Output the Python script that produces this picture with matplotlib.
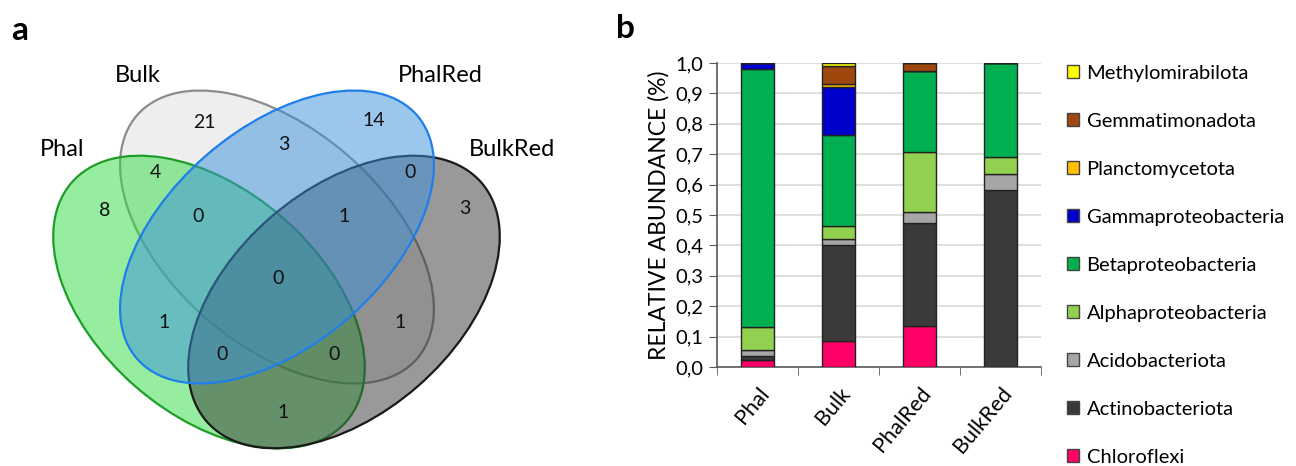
import numpy as np
import matplotlib
matplotlib.use("Agg")
import matplotlib.pyplot as plt
from matplotlib.patches import Ellipse, Patch

plt.rcParams['font.family'] = ['Lato', 'DejaVu Sans']

# DATA
samples = ["Phal", "Bulk", "PhalRed", "BulkRed"]
phyla = ["Chloroflexi", "Actinobacteriota", "Acidobacteriota", "Alphaproteobacteria",
         "Betaproteobacteria", "Gammaproteobacteria", "Planctomycetota",
         "Gemmatimonadota", "Methylomirabilota"]
chloroflexi = [0.022, 0.084, 0.134, 0.0]
actinobacteriota = [0.015, 0.317, 0.339, 0.583]
acidobacteriota = [0.020, 0.019, 0.037, 0.052]
alphaproteobacteria = [0.075, 0.044, 0.197, 0.056]
betaproteobacteria = [0.849, 0.299, 0.268, 0.309]
gammaproteobacteria = [0.019, 0.158, 0.0, 0.0]
planctomycetota = [0.0, 0.010, 0.0, 0.0]
gemmatimonadota = [0.0, 0.060, 0.025, 0.0]
methylomirabilota = [0.0, 0.009, 0.0, 0.0]
colors = ["#FF0066", "#3A3A3A", "#A6A6A6", "#92D050", "#00B050",
          "#0000CC", "#FFC000", "#9E480E", "#FFFF00"]

# venn region counts (label text, position in pixels)
venn_counts = ["21", "14", "3", "4", "0", "8", "3", "0", "1", "0", "1", "1", "0", "0", "1"]
venn_pos = [(204, 122), (374, 120), (284, 145), (155, 172), (410, 172), (105, 210),
            (465, 208), (198, 217), (344, 217), (278, 278), (164, 322), (400, 322),
            (222, 355), (334, 355), (283, 413)]

fig = plt.figure(figsize=(12.96, 4.66), dpi=100)

# ---- a: venn ----
axv = fig.add_axes([0, 0, 620 / 1296, 1])
axv.set_xlim(0, 620)
axv.set_ylim(466, 0)
axv.axis("off")

sets = [  # name, center, width, height, angle, fill, edge
    ("Bulk", (277, 237), 371, 216, 41, "#DFDFDF", "#8C8C8C"),
    ("Phal", (209, 302), 364, 224, 41, "#31DD41", "#1E9E28"),
    ("BulkRed", (344, 302), 364, 224, -41, "#353535", "#1A1A1A"),
    ("PhalRed", (277, 237), 371, 216, -41, "#3B91DD", "#1E7FEA"),
]
for name, c, w, h, ang, fc, ec in sets:
    axv.add_patch(Ellipse(c, w, h, angle=ang, facecolor=matplotlib.colors.to_rgba(fc, 0.5),
                          edgecolor=ec, lw=1.6))

for t, (x, y) in zip(venn_counts, venn_pos):
    axv.text(x, y, t, ha="center", va="center", fontsize=14, color="#111111")

axv.text(62, 150, "Phal", ha="center", va="center", fontsize=17)
axv.text(138, 75, "Bulk", ha="center", va="center", fontsize=17)
axv.text(440, 75, "PhalRed", ha="center", va="center", fontsize=17)
axv.text(512, 150, "BulkRed", ha="center", va="center", fontsize=17)
fig.text(20 / 1296, 1 - 30 / 466, "a", ha="center", va="center", fontsize=24, fontweight="bold")
fig.text(625 / 1296, 1 - 28 / 466, "b", ha="center", va="center", fontsize=24, fontweight="bold")

# ---- b: stacked bars ----
ax = fig.add_axes([717 / 1296, 1 - 367 / 466, 324 / 1296, 304 / 466])
series = [chloroflexi, actinobacteriota, acidobacteriota, alphaproteobacteria,
          betaproteobacteria, gammaproteobacteria, planctomycetota,
          gemmatimonadota, methylomirabilota]
x = np.arange(len(samples))
bottom = np.zeros(len(samples))
for vals, col, lab in zip(series, colors, phyla):
    vals = np.array(vals)
    ax.bar(x, vals, 0.4, bottom=bottom, color=col, edgecolor="#222222", lw=1.0, label=lab, zorder=3)
    bottom += vals

ax.set_xlim(-0.5, 3.5)
ax.set_ylim(0, 1.0)
ax.set_yticks(np.arange(0, 1.01, 0.1))
ax.set_yticklabels([f"{v:.1f}".replace(".", ",") for v in np.arange(0, 1.01, 0.1)], fontsize=14.5)
ax.set_xticks(x)
ax.set_xticklabels(samples, rotation=50, ha="right", rotation_mode="anchor", fontsize=15.5)
ax.set_xticks(np.arange(-0.5, 3.6, 1), minor=True)
ax.tick_params(axis="x", which="major", length=0, pad=12)
ax.tick_params(axis="x", which="minor", length=6, direction="out", color="#595959")
ax.tick_params(axis="y", length=6, direction="out", color="#595959", pad=4)
ax.grid(axis="y", color="#D9D9D9", lw=1.2, zorder=0)
for s in ["top", "right"]:
    ax.spines[s].set_visible(False)
for s in ["left", "bottom"]:
    ax.spines[s].set_color("#595959")
    ax.spines[s].set_linewidth(1.2)
ax.set_ylabel("RELATIVE ABUNDANCE (%)", fontsize=16.5, labelpad=4)

handles = [Patch(facecolor=c, edgecolor="#444444", label=l) for c, l in zip(colors, phyla)][::-1]
fig.legend(handles=handles, loc="upper left", bbox_to_anchor=(1067 / 1296, 1 - 64.5 / 466),
           frameon=False, fontsize=14.5, handlelength=0.62, handleheight=0.62,
           handletextpad=0.35, labelspacing=1.54, borderpad=0, borderaxespad=0)

fig.savefig("out.png", dpi=100)
